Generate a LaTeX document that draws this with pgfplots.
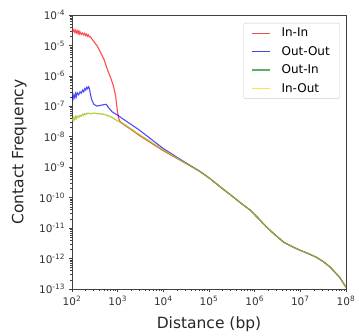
\documentclass[border=0pt]{standalone}
\usepackage{pgfplots}
\pgfplotsset{compat=1.18}
\usepackage{fontspec}
\setmainfont{DejaVu Sans}
\definecolor{cred}{RGB}{255,0,0}
\definecolor{cblue}{RGB}{0,0,255}
\definecolor{cgreen}{RGB}{40,150,40}
\definecolor{cyellow}{RGB}{235,225,0}
\definecolor{lred}{RGB}{240,80,80}
\definecolor{lblue}{RGB}{70,70,230}
\definecolor{lgreen}{RGB}{95,175,95}
\definecolor{lyellow}{RGB}{240,235,70}
\begin{document}
\begin{tikzpicture}
\path[use as bounding box] (-72pt,-47pt) rectangle (287pt,289pt);
\begin{axis}[
  at={(0pt,0pt)}, anchor=south west,
  scale only axis, width=274pt, height=274pt,
  xmode=log, ymode=log,
  xmin=1e2, xmax=1e8, ymin=1e-13, ymax=1e-4,
  xtick={1e2,1e3,1e4,1e5,1e6,1e7,1e8},
  ytick={1e-13,1e-12,1e-11,1e-10,1e-9,1e-8,1e-7,1e-6,1e-5,1e-4},
  xtick pos=lower, ytick pos=left,
  tick align=outside,
  major tick length=3.5pt, minor tick length=2pt,
  axis line style={black!75, line width=0.8pt},
  every tick/.style={black!75, line width=0.6pt},
  ticklabel style={font=\fontsize{10.5}{12}\selectfont, text=black!80},
  xticklabel={10\textsuperscript{\pgfmathparse{int(round(\tick/ln(10)))}\pgfmathresult}},
  yticklabel={10\textsuperscript{\pgfmathparse{int(round(\tick/ln(10)))}\pgfmathresult}},
  xlabel={Distance (bp)}, ylabel={Contact Frequency},
  label style={font=\fontsize{15.5}{18}\selectfont, text=black!85},
  xlabel style={at={(axis description cs:0.5,-0.128)}, anchor=center},
  ylabel style={at={(axis description cs:-0.193,0.5)}, anchor=center},
  legend style={at={(axis description cs:0.978,0.971)}, anchor=north east,
    draw=black!20, rounded corners=2pt, font=\fontsize{12}{14}\selectfont,
    row sep=4pt, inner xsep=8pt, inner ysep=3pt,
    /tikz/every odd column/.append style={column sep=9pt}},
  legend cell align=left,
  legend image code/.code={\draw[#1] (0pt,0pt) -- (18pt,0pt);},
  every axis plot/.append style={line width=1.1pt},
]
\addplot[cred, opacity=0.7, forget plot] coordinates {
(100,3.6e-5)(105,2.9e-5)(110,3.3e-5)(115,2.7e-5)(120,3.1e-5)(125,2.6e-5)(130,3.0e-5)(135,2.5e-5)(140,2.9e-5)(145,2.4e-5)(150,2.8e-5)(160,2.3e-5)(170,2.6e-5)(180,2.2e-5)(190,2.5e-5)(200,2.1e-5)(210,2.35e-5)(220,2.0e-5)(230,2.2e-5)(240,1.9e-5)(250,1.95e-5)
(300,1.35e-5)(350,1.0e-5)(400,6.9e-6)(500,3.55e-6)(600,1.58e-6)(700,8.7e-7)(800,4.9e-7)(900,2.24e-7)(950,1.12e-7)(1000,6.2e-8)(1050,4.1e-8)(1150,3.0e-8)(1300,2.63e-8)(2000,1.7e-8)(3000,1.1e-8)(1e4,3.47e-9)
(3e4,1.38e-9)(6e4,7.6e-10)(1e5,4.47e-10)(2e5,1.95e-10)(3.4e5,1.05e-10)(5e5,6.6e-11)(8e5,3.9e-11)(1.2e6,2.1e-11)(1.8e6,1.1e-11)(2.8e6,6.0e-12)(4.3e6,3.47e-12)(6.5e6,2.5e-12)(1e7,1.86e-12)(1.5e7,1.45e-12)(2.2e7,1.12e-12)(3.2e7,7.9e-13)(4.5e7,5.25e-13)(7.2e7,2.45e-13)(1e8,1.15e-13)
};
\addplot[cblue, opacity=0.7, forget plot] coordinates {
(100,2.2e-7)(105,1.7e-7)(110,2.4e-7)(115,1.9e-7)(120,2.6e-7)(125,2.1e-7)(130,2.8e-7)(140,2.4e-7)(150,3.0e-7)(160,2.7e-7)(170,3.4e-7)(180,3.0e-7)(190,3.8e-7)(200,3.4e-7)(210,4.2e-7)(220,3.8e-7)(230,4.4e-7)(240,3.9e-7)
(255,2.4e-7)(270,1.66e-7)(300,1.17e-7)(350,1.02e-7)(450,1.1e-7)(560,1.17e-7)(630,9.1e-8)(760,6.6e-8)(1000,5.1e-8)(1260,4.0e-8)(3000,1.65e-8)(1e4,4.1e-9)(3e4,1.44e-9)(6e4,7.7e-10)
(1e5,4.47e-10)(2e5,1.95e-10)(3.4e5,1.05e-10)(5e5,6.6e-11)(8e5,3.9e-11)(1.2e6,2.1e-11)(1.8e6,1.1e-11)(2.8e6,6.0e-12)(4.3e6,3.47e-12)(6.5e6,2.5e-12)(1e7,1.86e-12)(1.5e7,1.45e-12)(2.2e7,1.12e-12)(3.2e7,7.9e-13)(4.5e7,5.25e-13)(7.2e7,2.45e-13)(1e8,1.15e-13)
};
\addplot[cgreen, opacity=0.6, forget plot] coordinates {
(100,4.0e-8)(105,3.4e-8)(110,4.3e-8)(115,3.7e-8)(120,4.6e-8)(125,4.0e-8)(130,4.8e-8)(140,4.3e-8)(150,5.1e-8)(160,4.7e-8)(170,5.5e-8)(180,5.1e-8)(190,5.8e-8)(200,5.4e-8)(220,6.0e-8)(250,5.7e-8)(300,6.0e-8)(350,5.8e-8)
(500,5.5e-8)(700,4.6e-8)(1000,3.3e-8)(1300,2.75e-8)(3000,1.17e-8)(1e4,3.7e-9)(3e4,1.38e-9)(6e4,7.6e-10)
(1e5,4.47e-10)(2e5,1.95e-10)(3.4e5,1.05e-10)(5e5,6.6e-11)(8e5,3.9e-11)(1.2e6,2.1e-11)(1.8e6,1.1e-11)(2.8e6,6.0e-12)(4.3e6,3.47e-12)(6.5e6,2.5e-12)(1e7,1.86e-12)(1.5e7,1.45e-12)(2.2e7,1.12e-12)(3.2e7,7.9e-13)(4.5e7,5.25e-13)(7.2e7,2.45e-13)(1e8,1.15e-13)
};
\addplot[cyellow, opacity=0.55, forget plot] coordinates {
(100,4.1e-8)(105,3.5e-8)(110,4.2e-8)(115,3.8e-8)(120,4.5e-8)(125,4.1e-8)(130,4.7e-8)(140,4.4e-8)(150,5.0e-8)(160,4.8e-8)(170,5.4e-8)(180,5.2e-8)(190,5.7e-8)(200,5.5e-8)(220,5.9e-8)(250,5.8e-8)(300,5.9e-8)(350,5.8e-8)
(500,5.5e-8)(700,4.6e-8)(1000,3.3e-8)(1300,2.75e-8)(3000,1.17e-8)(1e4,3.7e-9)(3e4,1.38e-9)(6e4,7.6e-10)
(1e5,4.47e-10)(2e5,1.95e-10)(3.4e5,1.05e-10)(5e5,6.6e-11)(8e5,3.9e-11)(1.2e6,2.1e-11)(1.8e6,1.1e-11)(2.8e6,6.0e-12)(4.3e6,3.47e-12)(6.5e6,2.5e-12)(1e7,1.86e-12)(1.5e7,1.45e-12)(2.2e7,1.12e-12)(3.2e7,7.9e-13)(4.5e7,5.25e-13)(7.2e7,2.45e-13)(1e8,1.15e-13)
};
\addlegendimage{lred, line width=1.1pt}
\addlegendentry{In-In}
\addlegendimage{lblue, line width=1.1pt}
\addlegendentry{Out-Out}
\addlegendimage{lgreen, line width=1.1pt}
\addlegendentry{Out-In}
\addlegendimage{lyellow, line width=1.1pt}
\addlegendentry{In-Out}
\end{axis}
\end{tikzpicture}
\end{document}
